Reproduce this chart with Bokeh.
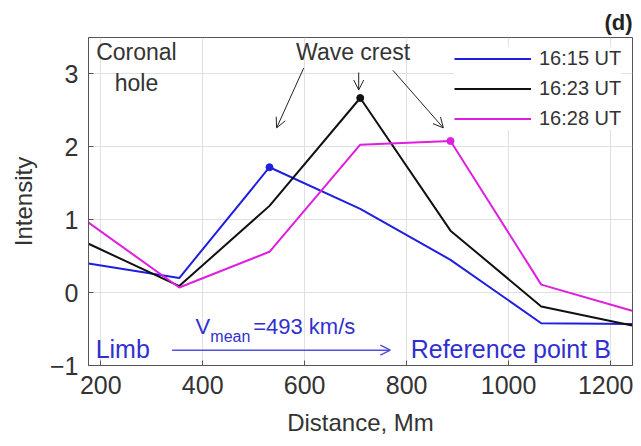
from bokeh.plotting import figure
from bokeh.models import (Range1d, Label, Arrow, OpenHead, Legend, LegendItem,
                          FixedTicker, ColumnDataSource)
from bokeh.embed import file_html
from bokeh.resources import INLINE

# ---- data ----
distance = [176, 354, 531, 709, 886, 1064, 1242]
series_names = ["16:15 UT", "16:23 UT", "16:28 UT"]
intensity_1615 = [0.40, 0.20, 1.72, 1.15, 0.45, -0.42, -0.43]
intensity_1623 = [0.67, 0.09, 1.19, 2.67, 0.85, -0.19, -0.45]
intensity_1628 = [0.96, 0.07, 0.56, 2.03, 2.08, 0.11, -0.25]
x_ticks = [200, 400, 600, 800, 1000, 1200]
y_ticks = [-1, 0, 1, 2, 3]

colors = ["#1f1fe0", "#111111", "#e01ee0"]
FONT = "Liberation Sans"
TXT = "#333333"

p = figure(width=633, height=438, output_backend="svg", toolbar_location=None,
           x_range=Range1d(176, 1243), y_range=Range1d(-1, 3.5),
           min_border_left=88, min_border_right=1, min_border_top=37,
           min_border_bottom=72)

p.title.text = "(d)"
p.title.align = "right"
p.title.text_font = FONT
p.title.text_font_size = "22px"
p.title.text_font_style = "bold"
p.title.text_color = "#222222"
p.title.standoff = 6

p.outline_line_color = "#555555"
p.outline_line_width = 1
p.background_fill_color = "white"
p.grid.grid_line_color = "#e0e0e0"
p.grid.grid_line_width = 1

p.xaxis.ticker = FixedTicker(ticks=x_ticks)
p.yaxis.ticker = FixedTicker(ticks=y_ticks)
for ax in (p.xaxis, p.yaxis):
    ax.major_tick_in = 5
    ax.major_tick_out = 0
    ax.minor_tick_line_color = None
    ax.axis_line_color = "#555555"
    ax.major_tick_line_color = "#555555"
    ax.major_label_text_font = FONT
    ax.major_label_text_font_size = "25px"
    ax.major_label_text_color = TXT
    ax.axis_label_text_font = FONT
    ax.axis_label_text_font_size = "24px"
    ax.axis_label_text_font_style = "normal"
    ax.axis_label_text_color = TXT
p.xaxis.axis_label = "Distance, Mm"
p.yaxis.axis_label = "Intensity"
p.xaxis.major_label_standoff = 10
p.yaxis.major_label_standoff = 10
p.xaxis.axis_label_standoff = 12
p.yaxis.axis_label_standoff = 10

items = []
for name, vals, c in zip(series_names, [intensity_1615, intensity_1623, intensity_1628], colors):
    src = ColumnDataSource(dict(x=distance, y=vals))
    r = p.line("x", "y", source=src, line_color=c, line_width=2)
    k = max(range(len(vals)), key=lambda i: vals[i])
    p.scatter([distance[k]], [vals[k]], size=7, color=c)
    items.append(LegendItem(label=name, renderers=[r]))

leg = Legend(items=items, location=(366, 235), glyph_width=77, glyph_height=21,
             label_height=21, spacing=7, padding=5, label_standoff=8,
             label_text_font=FONT, label_text_font_size="20px",
             label_text_color=TXT, border_line_color=None,
             background_fill_color="white", background_fill_alpha=1.0)
p.add_layout(leg)

# ---- text annotations ----
def lab(x, y, t, color=TXT, size="24px", align="left", style="normal", baseline="middle"):
    p.add_layout(Label(x=x, y=y, text=t, text_color=color, text_font=FONT,
                       text_font_size=size, text_align=align, text_font_style=style,
                       text_baseline=baseline))

lab(270, 3.30, "Coronal", align="center", size="23px")
lab(270, 2.88, "hole", align="center", size="23px")
lab(695, 3.30, "Wave crest", align="center", size="23px")

blue_txt = "#3030d0"
lab(190, -0.78, "Limb", color=blue_txt, size="25px")
lab(808, -0.78, "Reference point B", color=blue_txt, size="25px")
lab(386, -0.47, "V", color=blue_txt, size="22px")
lab(415, -0.60, "mean", color=blue_txt, size="16px")
lab(499, -0.47, "=493 km/s", color=blue_txt, size="22px")

p.add_layout(Arrow(x_start=340, y_start=-0.79, x_end=768, y_end=-0.79,
                   line_color="#5050e0", line_width=1.5,
                   end=OpenHead(size=10, line_color="#5050e0", line_width=1.5)))

for xs, ys, xe, ye in [(598, 3.08, 545, 2.26), (706, 3.02, 706, 2.78), (773, 3.05, 872, 2.26)]:
    p.add_layout(Arrow(x_start=xs, y_start=ys, x_end=xe, y_end=ye,
                       line_color="#222222", line_width=1,
                       end=OpenHead(size=10, line_color="#222222", line_width=1)))

open("out.html", "w").write(file_html(p, INLINE))
